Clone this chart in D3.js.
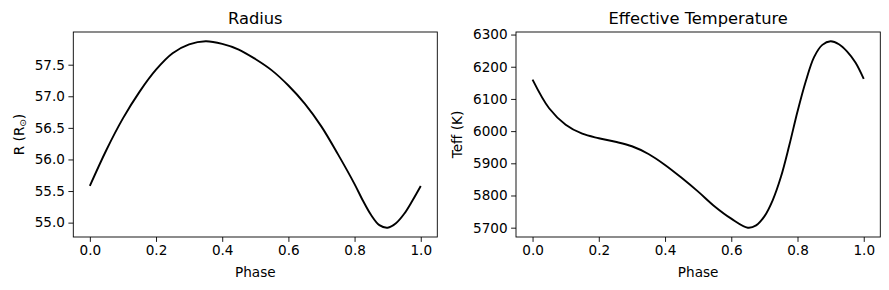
<!DOCTYPE html>
<html>
<head>
<meta charset="utf-8">
<script src="https://cdn.jsdelivr.net/npm/d3@7"></script>
<style>
  body { margin: 0; background: #fff; }
  text { font-family: "DejaVu Sans", sans-serif; fill: #000; }
</style>
</head>
<body>
<div id="chart"></div>
<script>
// Phase samples
const phaseR = [0, 0.05, 0.1, 0.15, 0.2, 0.25, 0.3, 0.35, 0.4, 0.45, 0.5,
  0.55, 0.6, 0.65, 0.7, 0.75, 0.8, 0.825, 0.85, 0.875, 0.9, 0.925, 0.95, 0.975, 1.0];
const radius = [55.58, 56.15, 56.65, 57.07, 57.42, 57.68, 57.82, 57.87, 57.83, 57.74, 57.59,
  57.41, 57.17, 56.88, 56.52, 56.08, 55.61, 55.35, 55.12, 54.96, 54.92, 54.99, 55.14, 55.35, 55.58];

const phaseT = [0, 0.05, 0.1, 0.15, 0.2, 0.25, 0.3, 0.35, 0.4, 0.45, 0.5,
  0.55, 0.6, 0.65, 0.675, 0.7, 0.725, 0.75, 0.775, 0.8, 0.825, 0.85, 0.875, 0.9, 0.925, 0.95, 0.975, 1.0];
const teff = [6160, 6071, 6020, 5992, 5978, 5967, 5953, 5929, 5895, 5855, 5812,
  5766, 5728, 5700, 5707, 5735, 5785, 5858, 5955, 6061, 6155, 6230, 6268, 6279, 6270, 6247, 6213, 6162];

const xTicks = [0, 0.2, 0.4, 0.6, 0.8, 1.0];
const rTicks = [55.0, 55.5, 56.0, 56.5, 57.0, 57.5];
const tTicks = [5700, 5800, 5900, 6000, 6100, 6200, 6300];

const W = 889, H = 290;
const svg = d3.select("#chart").append("svg")
  .attr("width", W).attr("height", H);

const tickLen = 4.9, tickPad = 3.5;
const tickFont = "13.6px", titleFont = "16.3px";

function panel(opts) {
  const { left, right, top, bottom, xs, ys, xt, yt, yfmt, title, ylabel, ylabelX } = opts;
  const g = svg.append("g");

  const x = d3.scaleLinear().domain([-0.05, 1.05]).range([left, right]);
  const [lo, hi] = d3.extent(ys);
  const pad = (hi - lo) * 0.05;
  const y = d3.scaleLinear().domain([lo - pad, hi + pad]).range([bottom, top]);

  // the curve
  const line = d3.line()
    .x((d, i) => x(xs[i]))
    .y(d => y(d))
    .curve(d3.curveCatmullRom.alpha(0.5));
  g.append("path")
    .datum(ys)
    .attr("d", line)
    .attr("fill", "none")
    .attr("stroke", "#000")
    .attr("stroke-width", 1.9)
    .attr("stroke-linejoin", "round");

  // axes
  const xa = g.append("g").attr("transform", `translate(0,${bottom})`)
    .call(d3.axisBottom(x).tickValues(xt).tickFormat(d3.format(".1f"))
      .tickSize(tickLen).tickPadding(tickPad));
  const ya = g.append("g").attr("transform", `translate(${left},0)`)
    .call(d3.axisLeft(y).tickValues(yt).tickFormat(yfmt)
      .tickSize(tickLen).tickPadding(tickPad));
  [xa, ya].forEach(a => {
    a.select(".domain").remove();
    a.selectAll("line").attr("stroke", "#000").attr("stroke-width", 0.9);
    a.selectAll("text").style("font-size", tickFont)
      .style("font-family", "'DejaVu Sans', sans-serif").attr("fill", "#000");
  });

  // frame
  g.append("rect")
    .attr("x", left).attr("y", top)
    .attr("width", right - left).attr("height", bottom - top)
    .attr("fill", "none").attr("stroke", "#000").attr("stroke-width", 0.9);

  g.append("text")
    .attr("x", (left + right) / 2).attr("y", top - 8)
    .attr("text-anchor", "middle")
    .style("font-size", titleFont)
    .text(title);

  g.append("text")
    .attr("x", (left + right) / 2).attr("y", 277)
    .attr("text-anchor", "middle")
    .style("font-size", tickFont)
    .text("Phase");

  const yl = g.append("text")
    .attr("transform", `translate(${ylabelX},${(top + bottom) / 2}) rotate(-90)`)
    .attr("text-anchor", "middle")
    .style("font-size", tickFont);
  ylabel(yl);
}

panel({
  left: 73.3, right: 437.3, top: 32, bottom: 237,
  xs: phaseR, ys: radius, xt: xTicks, yt: rTicks,
  yfmt: d3.format(".1f"), title: "Radius", ylabelX: 23.5,
  ylabel: t => {
    t.append("tspan").text("R (R");
    t.append("tspan").attr("dy", 2.5).style("font-size", "9px").text("\u2299");
    t.append("tspan").attr("dy", -2.5).text(")");
  }
});

panel({
  left: 516, right: 880.3, top: 32, bottom: 237,
  xs: phaseT, ys: teff, xt: xTicks, yt: tTicks,
  yfmt: d3.format("d"), title: "Effective Temperature", ylabelX: 462,
  ylabel: t => t.text("Teff (K)")
});
</script>
</body>
</html>
